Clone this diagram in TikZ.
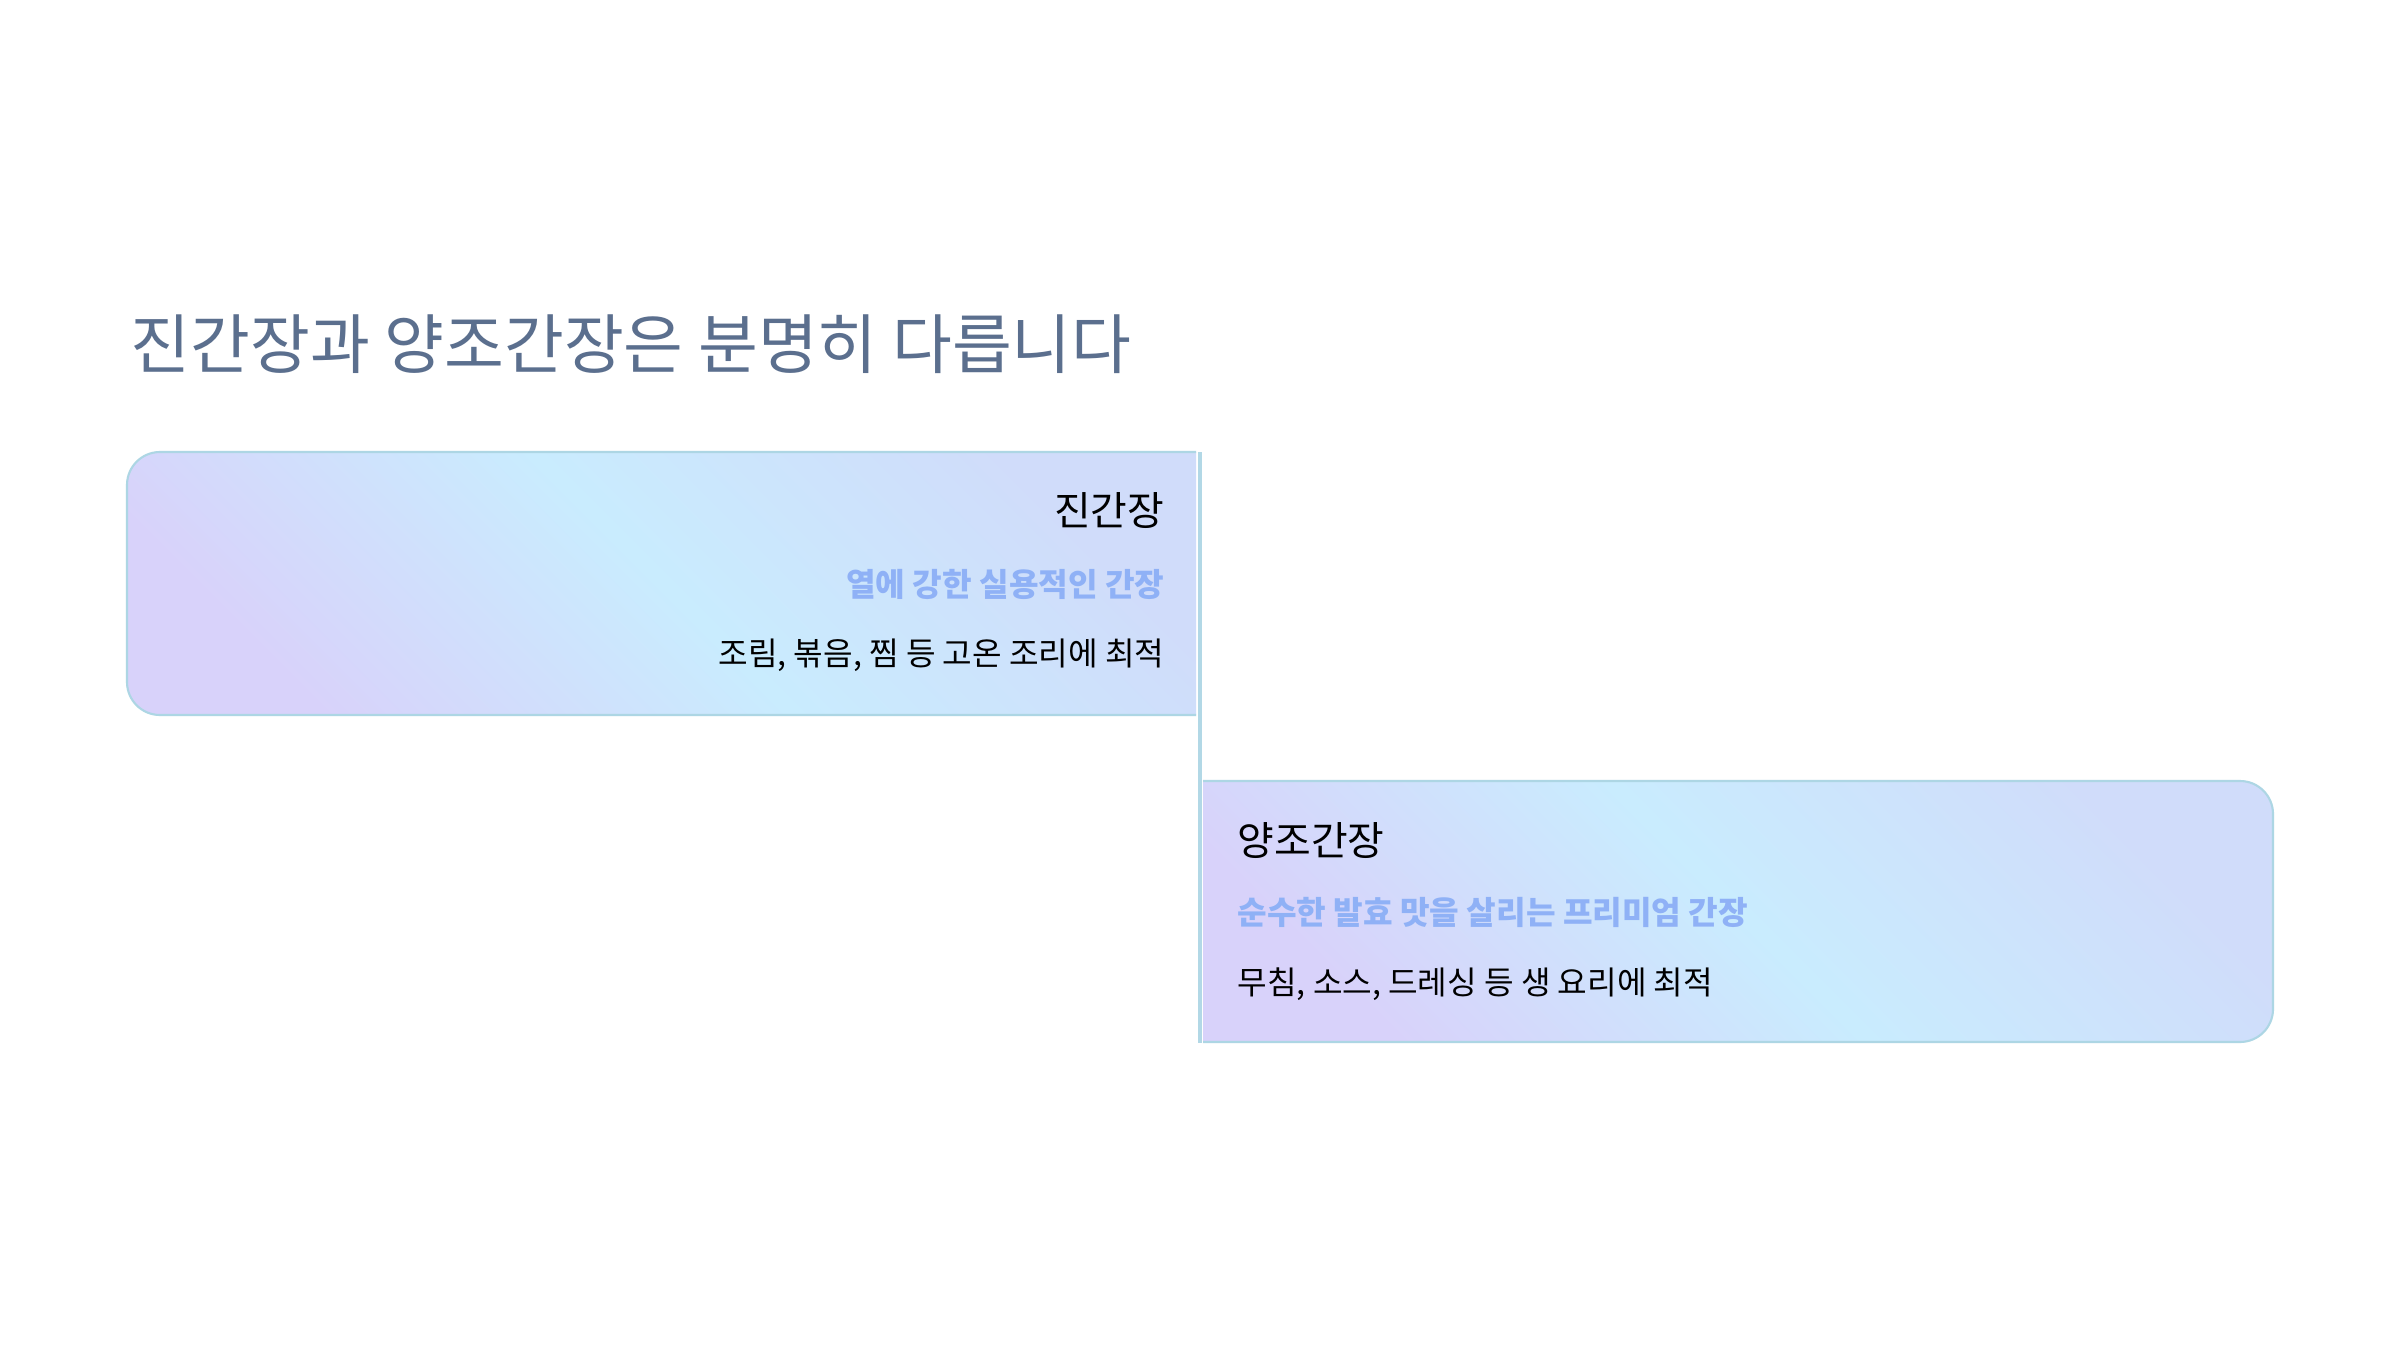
\documentclass[tikz,border=0pt]{standalone}
\usepackage{fontspec}
\setmainfont{Noto Sans CJK KR}
\usepackage{tikz}
\definecolor{titleblue}{HTML}{5B6F8E}
\definecolor{subblue}{HTML}{8FB1F6}
\definecolor{edgeblue}{HTML}{ADD6E4}
\definecolor{lineblue}{HTML}{B2D8E6}
\definecolor{lavc}{HTML}{D8D2FA}
\definecolor{cyanc}{HTML}{C9ECFE}
\definecolor{peric}{HTML}{D0DCFA}
\pgfdeclarehorizontalshading{cardfade}{100bp}{color(0bp)=(lavc); color(25bp)=(lavc); color(50bp)=(cyanc); color(75bp)=(peric); color(100bp)=(peric)}
\tikzset{
  card/.style={shading=cardfade, shading angle=45},
  cardedge/.style={draw=edgeblue, line width=0.6pt},
  cardhead/.style={inner sep=0pt, font=\fontsize{11.35}{13}\selectfont, text=black},
  cardsub/.style={inner sep=0pt, font=\fontsize{9.15}{11}\selectfont\bfseries, text=subblue},
  cardtext/.style={inner sep=0pt, font=\fontsize{9.15}{11}\selectfont, text=black},
}

\begin{document}
\begin{tikzpicture}
\useasboundingbox (0,0) rectangle (24,13.5);
\fill[white] (0,0) rectangle (24,13.5);

\node[anchor=west, inner sep=0pt, text=titleblue, font=\fontsize{18.5}{22}\selectfont] (title) at (1.30, 10.06) {진간장과 양조간장은 분명히 다릅니다};

\shade[card] (11.96, 6.35) -- (11.96, 8.98) -- (1.60, 8.98) arc[start angle=90, end angle=180, radius=0.33] -- (1.27, 6.68) arc[start angle=180, end angle=270, radius=0.33] -- cycle;
\draw[cardedge] (11.96, 8.98) -- (1.60, 8.98) arc[start angle=90, end angle=180, radius=0.33] -- (1.27, 6.68) arc[start angle=180, end angle=270, radius=0.33] -- (11.96, 6.35);

\shade[card] (12.03, 3.08) -- (12.03, 5.69) -- (22.40, 5.69) arc[start angle=90, end angle=0, radius=0.33] -- (22.73, 3.41) arc[start angle=0, end angle=-90, radius=0.33] -- cycle;
\draw[cardedge] (12.03, 5.69) -- (22.40, 5.69) arc[start angle=90, end angle=0, radius=0.33] -- (22.73, 3.41) arc[start angle=0, end angle=-90, radius=0.33] -- (12.03, 3.08);

\coordinate (linetop) at (12.00, 8.98);
\coordinate (linebot) at (12.00, 3.07);
\draw[lineblue, line width=0.95pt] (linetop) -- (linebot);

\node[cardhead, anchor=east] (jin) at (11.65, 8.39) {진간장};
\node[cardsub, anchor=east] (jinsub) at (11.65, 7.66) {열에 강한 실용적인 간장};
\node[cardtext, anchor=east] (jintxt) at (11.65, 6.95) {조림, 볶음, 찜 등 고온 조리에 최적};

\node[cardhead, anchor=west] (yang) at (12.37, 5.09) {양조간장};
\node[cardsub, anchor=west] (yangsub) at (12.37, 4.38) {순수한 발효 맛을 살리는 프리미엄 간장};
\node[cardtext, anchor=west] (yangtxt) at (12.37, 3.66) {무침, 소스, 드레싱 등 생 요리에 최적};
\end{tikzpicture}
\end{document}
